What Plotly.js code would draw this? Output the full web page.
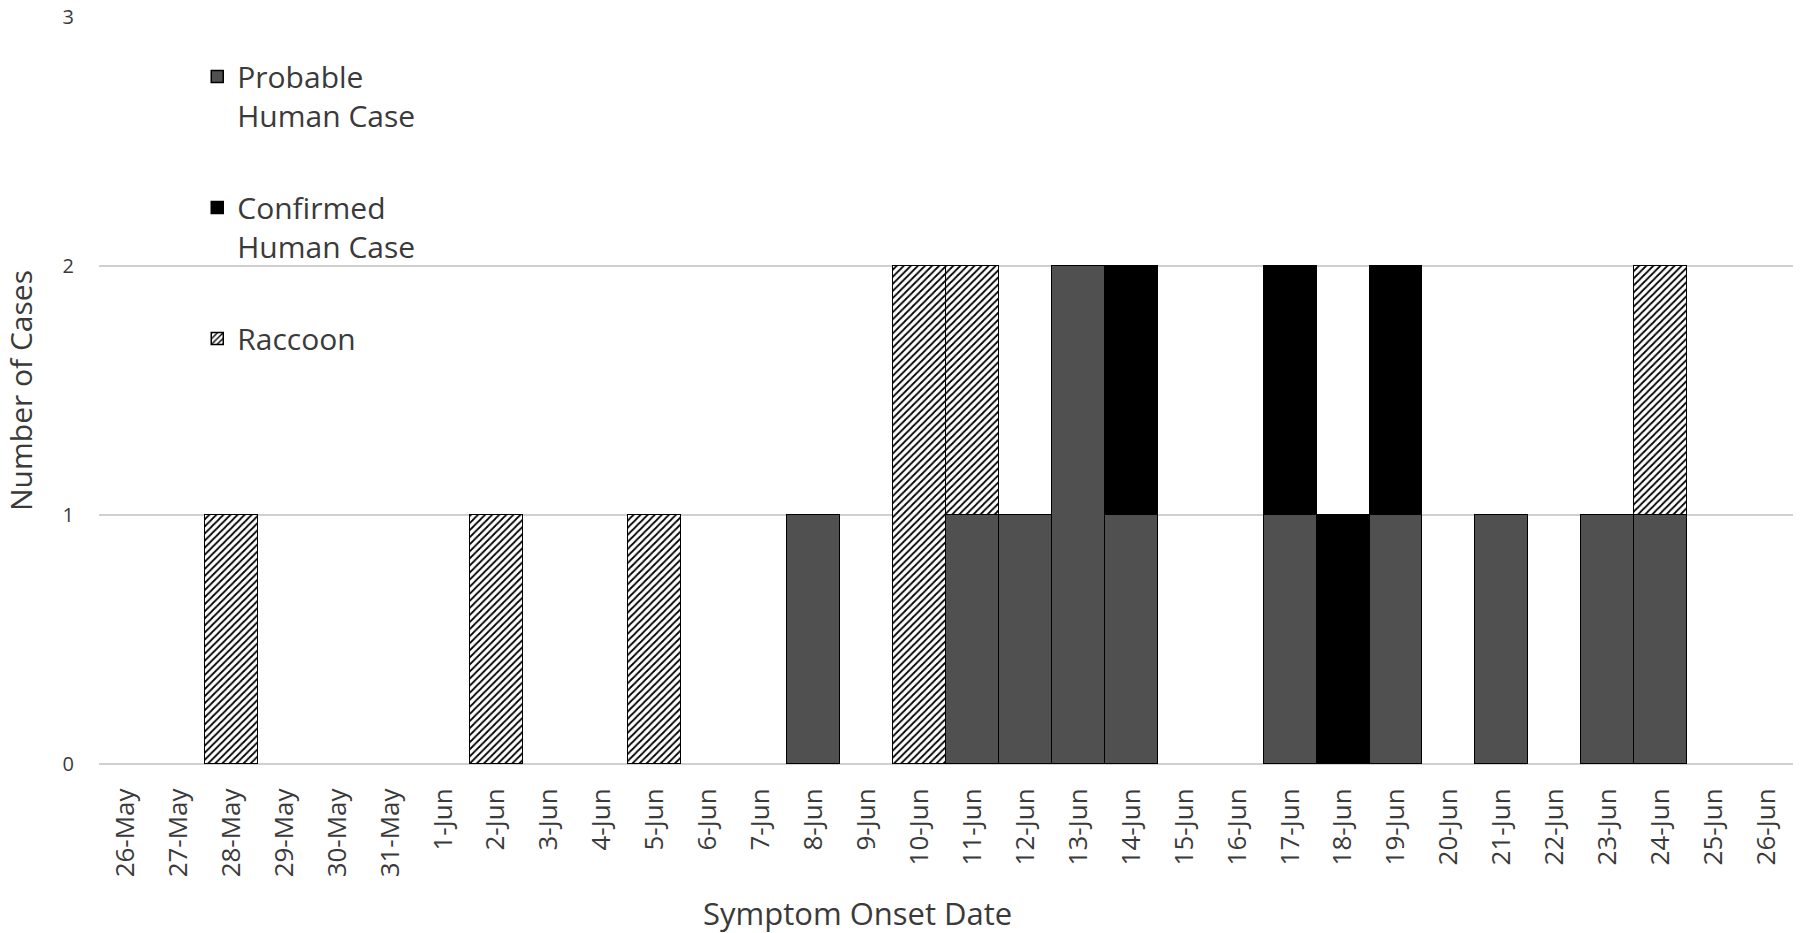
<!DOCTYPE html>
<html>
<head>
<meta charset="utf-8">
<script src="https://cdn.plot.ly/plotly-3.0.1.min.js"></script>
<style>
  html, body { margin: 0; padding: 0; background: #ffffff; }
  #chart { width: 1800px; height: 933px; }
</style>
</head>
<body>
<div id="chart"></div>
<script>
const dates = ['26-May', '27-May', '28-May', '29-May', '30-May', '31-May',
    '1-Jun', '2-Jun', '3-Jun', '4-Jun', '5-Jun', '6-Jun', '7-Jun', '8-Jun', '9-Jun',
    '10-Jun', '11-Jun', '12-Jun', '13-Jun', '14-Jun', '15-Jun', '16-Jun', '17-Jun',
    '18-Jun', '19-Jun', '20-Jun', '21-Jun', '22-Jun', '23-Jun', '24-Jun', '25-Jun', '26-Jun'];

const probable = [0, 0, 0, 0, 0, 0, 0, 0, 0, 0, 0, 0, 0, 1, 0, 0,
    1, 1, 2, 1, 0, 0, 1, 0, 1, 0, 1, 0, 1, 1, 0, 0];
const confirmed = [0, 0, 0, 0, 0, 0, 0, 0, 0, 0, 0, 0, 0, 0, 0, 0,
    0, 0, 0, 1, 0, 0, 1, 1, 1, 0, 0, 0, 0, 0, 0, 0];
const raccoon = [0, 0, 1, 0, 0, 0, 0, 1, 0, 0, 1, 0, 0, 0, 0, 2,
    1, 0, 0, 0, 0, 0, 0, 0, 0, 0, 0, 0, 0, 1, 0, 0];

const txt_cl = '#3a3a3a';
const font_family = 'Open Sans, Noto Sans, sans-serif';

// empty days are left out so no zero-height outline gets drawn
const noZero = arr => arr.map(v => v === 0 ? null : v);

const traceProbable = {
    x: dates,
    y: noZero(probable),
    type: 'bar',
    name: 'Probable<br>Human Case',
    legendgroup: 'p',
    marker: {
        color: '#505050',
        line: {color: '#000000', width: 1.5}
    }
};

const traceConfirmed = {
    x: dates,
    y: noZero(confirmed),
    type: 'bar',
    name: 'Confirmed<br>Human Case',
    legendgroup: 'c',
    marker: {
        color: '#000000',
        line: {color: '#000000', width: 1.5}
    }
};

const traceRaccoon = {
    x: dates,
    y: noZero(raccoon),
    type: 'bar',
    name: 'Raccoon',
    legendgroup: 'r',
    marker: {
        color: '#ffffff',
        line: {color: '#000000', width: 1.5},
        pattern: {shape: '/', fgcolor: '#000000', bgcolor: '#ffffff', size: 5, solidity: 0.35}
    }
};

const layout = {
    width: 1800,
    height: 933,
    barmode: 'stack',
    bargap: 0,
    margin: {l: 99, r: 7, t: 17, b: 169},
    font: {family: font_family, color: txt_cl},
    plot_bgcolor: '#ffffff',
    paper_bgcolor: '#ffffff',
    xaxis: {
        type: 'category',
        tickangle: -90,
        tickfont: {size: 26, color: txt_cl},
        ticks: 'outside',
        ticklen: 13,
        tickcolor: 'rgba(0,0,0,0)',
        showgrid: false,
        showline: false,
        zeroline: false,
        fixedrange: true
    },
    yaxis: {
        range: [0, 3],
        dtick: 1,
        tickfont: {size: 20, color: txt_cl},
        ticks: 'outside',
        ticklen: 20,
        tickcolor: 'rgba(0,0,0,0)',
        showgrid: true,
        gridcolor: '#d0d0d0',
        gridwidth: 1.5,
        zeroline: true,
        zerolinecolor: '#d0d0d0',
        zerolinewidth: 1.5,
        title: {text: 'Number of Cases', font: {size: 30, color: txt_cl}, standoff: 26},
        fixedrange: true
    },
    showlegend: true,
    legend: {
        x: 0.058,
        y: 0.955,
        xanchor: 'left',
        yanchor: 'top',
        traceorder: 'grouped',
        tracegroupgap: 50,
        valign: 'top',
        bgcolor: 'rgba(0,0,0,0)',
        font: {size: 30, color: txt_cl}
    },
    annotations: [{
        text: 'Symptom Onset Date',
        xref: 'paper',
        yref: 'paper',
        x: 0.4475,
        y: -0.1995,
        xanchor: 'center',
        yanchor: 'middle',
        showarrow: false,
        font: {size: 31, color: txt_cl}
    }]
};

Plotly.newPlot('chart', [traceProbable, traceConfirmed, traceRaccoon], layout, {displayModeBar: false});
</script>
</body>
</html>
